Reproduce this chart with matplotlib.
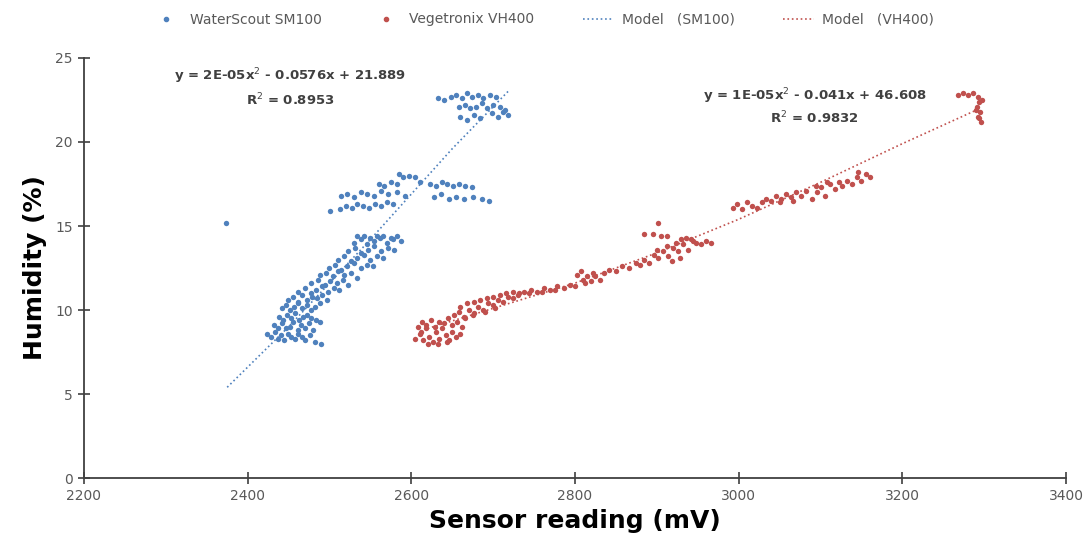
import matplotlib
matplotlib.use('Agg')
import matplotlib.pyplot as plt
from matplotlib.lines import Line2D

# WaterScout SM100 readings (mV, %)
sm100_mv = [
    2373,
    2424, 2428, 2433, 2437, 2441, 2445, 2449, 2453, 2458, 2462, 2466, 2470, 2482, 2490, 2476,
    2432, 2437, 2442, 2447, 2452, 2456, 2461, 2465, 2470, 2475, 2488, 2480,
    2438, 2443, 2448, 2453, 2458, 2463, 2468, 2473, 2478, 2484,
    2442, 2447, 2452, 2457, 2462, 2467, 2472, 2477, 2482, 2488,
    2449, 2455, 2461, 2467, 2473, 2479, 2485, 2491, 2497,
    2462, 2470, 2477, 2484, 2491, 2498, 2505, 2512,
    2478, 2486, 2494, 2501, 2509, 2516, 2523,
    2489, 2496, 2504, 2511, 2518, 2526, 2534,
    2499, 2507, 2514, 2522, 2530, 2538, 2546, 2553,
    2511, 2518, 2526, 2534, 2542, 2550, 2558, 2566,
    2523, 2531, 2539, 2547, 2555, 2563, 2571, 2579,
    2530, 2538, 2546, 2554, 2562, 2570, 2578, 2587,
    2534, 2542, 2550, 2558, 2566, 2575, 2583,
    2501, 2513, 2520, 2527, 2534, 2541, 2548, 2556, 2563, 2570, 2578,
    2514, 2522, 2530, 2538, 2546, 2555, 2563, 2572, 2582, 2592,
    2560, 2567, 2575, 2583, 2590, 2597, 2604, 2610, 2585,
    2623, 2630, 2637, 2644, 2651, 2658, 2666, 2674,
    2628, 2636, 2646, 2655, 2664, 2675, 2686, 2695,
    2632, 2640, 2648, 2655, 2662, 2668, 2674, 2681, 2688, 2696, 2704,
    2658, 2665, 2672, 2679, 2686, 2693, 2700, 2708, 2714,
    2660, 2668, 2676, 2684, 2698, 2706, 2712, 2718,
]
sm100_hum = [
    15.2,
    8.6, 8.4, 8.7, 8.3, 8.5, 8.2, 8.6, 8.4, 8.3, 8.6, 8.4, 8.2, 8.1, 8.0, 8.5,
    9.1, 8.9, 9.2, 8.9, 9.0, 9.3, 8.8, 9.1, 8.9, 9.2, 9.3, 8.8,
    9.6, 9.4, 9.7, 9.5, 9.8, 9.4, 9.6, 9.7, 9.5, 9.4,
    10.1, 10.3, 10.0, 10.2, 10.4, 10.1, 10.3, 10.0, 10.2, 10.4,
    10.6, 10.8, 10.5, 10.9, 10.6, 10.8, 10.7, 10.9, 10.6,
    11.1, 11.3, 11.0, 11.2, 11.4, 11.1, 11.3, 11.2,
    11.6, 11.8, 11.5, 11.7, 11.6, 11.8, 11.5,
    12.1, 12.2, 12.0, 12.3, 12.1, 12.2, 11.9,
    12.5, 12.7, 12.4, 12.6, 12.8, 12.5, 12.7, 12.6,
    13.0, 13.2, 12.9, 13.1, 13.3, 13.0, 13.2, 13.1,
    13.5, 13.7, 13.4, 13.6, 13.8, 13.5, 13.7, 13.6,
    14.0, 14.2, 13.9, 14.1, 14.3, 14.0, 14.2, 14.1,
    14.4, 14.4, 14.3, 14.4, 14.4, 14.3, 14.4,
    15.9, 16.0, 16.2, 16.1, 16.3, 16.2, 16.1, 16.3, 16.2, 16.4, 16.3,
    16.8, 16.9, 16.7, 17.0, 16.9, 16.8, 17.1, 16.9, 17.0, 16.8,
    17.5, 17.4, 17.6, 17.5, 17.9, 18.0, 17.9, 17.6, 18.1,
    17.5, 17.4, 17.6, 17.5, 17.4, 17.5, 17.4, 17.3,
    16.7, 16.9, 16.6, 16.7, 16.6, 16.7, 16.6, 16.5,
    22.6, 22.5, 22.7, 22.8, 22.6, 22.9, 22.7, 22.8, 22.6, 22.8, 22.7,
    22.1, 22.2, 22.0, 22.1, 22.3, 22.0, 22.2, 22.1, 21.9,
    21.5, 21.3, 21.6, 21.4, 21.7, 21.5, 21.8, 21.6,
]

# Vegetronix VH400 readings (mV, %)
vh400_mv = [
    2605, 2610, 2614, 2618, 2622, 2626, 2630, 2634, 2638, 2642, 2646, 2650, 2655, 2660,
    2608, 2613, 2618, 2624, 2629, 2634, 2640, 2645, 2650, 2656, 2662,
    2620, 2632, 2644, 2612,
    2652, 2658, 2664, 2670, 2676, 2682, 2688, 2694, 2700, 2706, 2712, 2718, 2724, 2730,
    2660, 2668, 2676, 2684, 2692, 2700, 2708, 2716, 2724, 2732,
    2665, 2675, 2690, 2702,
    2738, 2746, 2754, 2762, 2770, 2778, 2786, 2794, 2800, 2744, 2760, 2776,
    2803, 2807, 2810, 2815, 2820, 2825, 2830, 2835, 2812, 2822,
    2842, 2850, 2858, 2866, 2874, 2880,
    2884, 2890, 2896, 2902, 2908, 2914, 2920, 2926, 2932, 2938, 2944,
    2900, 2912, 2924, 2930, 2936, 2942, 2918, 2928,
    2884, 2895, 2905, 2912, 2901,
    2948, 2954, 2960, 2966,
    2993, 2998, 3004, 3010, 3016, 3022, 3028,
    3034, 3040, 3046, 3052, 3058, 3064, 3070, 3076, 3082, 3050, 3066,
    3090, 3096, 3100, 3106, 3112, 3118, 3122, 3094, 3108,
    3126, 3132, 3138, 3144, 3150, 3156, 3160, 3146,
    3268, 3274, 3280, 3286,
    3292, 3294, 3291, 3295, 3293, 3296, 3290, 3297, 3294,
]
vh400_hum = [
    8.3, 8.6, 8.2, 8.9, 8.4, 8.1, 8.7, 8.3, 8.9, 8.5, 8.2, 8.7, 8.4, 8.6,
    9.0, 9.3, 9.1, 9.4, 9.0, 9.3, 9.2, 9.5, 9.1, 9.3, 9.0,
    8.0, 8.0, 8.1, 8.7,
    9.7, 9.9, 9.6, 10.0, 9.8, 10.2, 10.0, 10.4, 10.3, 10.6, 10.5, 10.8, 10.7, 10.9,
    10.2, 10.4, 10.5, 10.6, 10.7, 10.8, 10.9, 11.0, 11.1, 11.0,
    9.5, 9.7, 9.9, 10.1,
    11.1, 11.2, 11.1, 11.3, 11.2, 11.4, 11.3, 11.5, 11.4, 11.0, 11.1, 11.2,
    12.1, 12.3, 11.8, 12.0, 11.7, 12.0, 11.8, 12.2, 11.6, 12.2,
    12.4, 12.3, 12.6, 12.5, 12.8, 12.7,
    13.0, 12.8, 13.3, 13.1, 13.5, 13.2, 13.7, 13.5, 13.9, 13.6, 14.1,
    13.6, 13.8, 14.0, 14.2, 14.3, 14.2, 12.9, 13.1,
    14.5, 14.5, 14.4, 14.4, 15.2,
    14.0, 13.9, 14.1, 14.0,
    16.1, 16.3, 16.0, 16.4, 16.2, 16.1, 16.4,
    16.6, 16.5, 16.8, 16.6, 16.9, 16.7, 17.0, 16.8, 17.1, 16.4, 16.5,
    16.6, 17.0, 17.3, 16.8, 17.5, 17.2, 17.6, 17.4, 17.6,
    17.4, 17.7, 17.5, 17.9, 17.7, 18.1, 17.9, 18.2,
    22.8, 22.9, 22.8, 22.9,
    22.7, 22.4, 22.1, 21.8, 21.5, 21.2, 21.9, 22.5, 21.4,
]

# trend lines
sm100_fit_mv = [2375, 2450, 2550, 2650, 2720]
sm100_fit_hum = [5.4, 9.0, 14.2, 19.6, 23.1]
vh400_fit_mv = [2620, 2700, 2800, 2900, 3000, 3100, 3200, 3295]
vh400_fit_hum = [8.9, 10.1, 11.6, 13.4, 15.4, 17.6, 19.9, 22.0]

blue = '#4f81bd'
red = '#c0504d'
grey = '#595959'

fig = plt.figure(figsize=(10.85, 5.45), dpi=100)
ax = fig.add_axes([0.0774, 0.1229, 0.9051, 0.7707])

ax.scatter(sm100_mv, sm100_hum, s=15, color=blue, linewidths=0, zorder=3)
ax.scatter(vh400_mv, vh400_hum, s=15, color=red, linewidths=0, zorder=3)
ax.plot(sm100_fit_mv, sm100_fit_hum, linestyle=':', color=blue, lw=1.2, zorder=2)
ax.plot(vh400_fit_mv, vh400_fit_hum, linestyle=':', color=red, lw=1.2, zorder=2)

ax.set_xlim(2200, 3400)
ax.set_ylim(0, 25)
ax.set_xticks(range(2200, 3401, 200))
ax.set_yticks(range(0, 26, 5))
ax.tick_params(direction='inout', length=9, width=1.2, colors='#404040',
               labelcolor=grey, labelsize=10)
for side in ('top', 'right'):
    ax.spines[side].set_visible(False)
for side in ('left', 'bottom'):
    ax.spines[side].set_color('#404040')
    ax.spines[side].set_linewidth(1.3)

ax.set_xlabel('Sensor reading (mV)', fontsize=18, fontweight='bold', labelpad=4)
ax.set_ylabel('Humidity (%)', fontsize=18, fontweight='bold', labelpad=6)

# equations from the spreadsheet trend lines
ax.text(2452, 23.9, 'y = 2E-05x$^2$ - 0.0576x + 21.889', ha='center', va='center',
        fontsize=9.5, fontweight='bold', color='#404040')
ax.text(2452, 22.5, 'R$^2$ = 0.8953', ha='center', va='center',
        fontsize=9.5, fontweight='bold', color='#404040')
ax.text(3093, 22.7, 'y = 1E-05x$^2$ - 0.041x + 46.608', ha='center', va='center',
        fontsize=9.5, fontweight='bold', color='#404040')
ax.text(3093, 21.4, 'R$^2$ = 0.9832', ha='center', va='center',
        fontsize=9.5, fontweight='bold', color='#404040')

handles = [
    Line2D([], [], marker='o', ls='none', ms=3, color=blue),
    Line2D([], [], marker='o', ls='none', ms=3, color=red),
    Line2D([], [], ls=':', lw=1.2, color=blue),
    Line2D([], [], ls=':', lw=1.2, color=red),
]
labels = ['WaterScout SM100', 'Vegetronix VH400', 'Model   (SM100)', 'Model   (VH400)']
fig.legend(handles, labels, loc='upper center', bbox_to_anchor=(0.5, 1.0), ncol=4,
           frameon=False, fontsize=10, labelcolor=grey, columnspacing=3.5,
           handlelength=2.2, handletextpad=0.6)

fig.savefig('out.png', dpi=100)
